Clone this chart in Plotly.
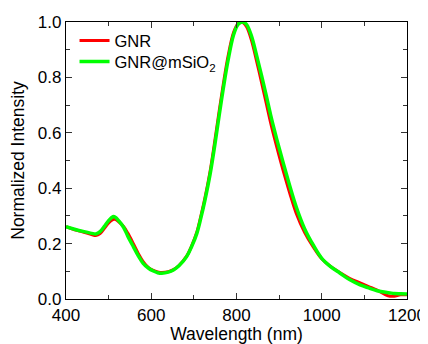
import plotly.graph_objects as go

# Wavelength (nm) sample points
wavelength = [400, 420, 440, 460, 470, 480, 490, 500, 510, 515, 525, 535, 545, 558, 570, 581, 593,
              605, 615, 625, 640, 652, 665, 683, 695, 707, 716, 726, 738, 750, 760, 769, 780, 793,
              803, 810, 816, 824, 835, 847, 859, 870, 880, 890, 900, 912, 925, 940, 960, 980, 1000,
              1020, 1043, 1065, 1090, 1110, 1130, 1150, 1160, 1170, 1185, 1200]

gnr = [0.261, 0.250, 0.242, 0.233, 0.229, 0.236, 0.255, 0.275, 0.287, 0.288, 0.277, 0.262, 0.238,
       0.200, 0.163, 0.135, 0.114, 0.103, 0.098, 0.096, 0.099, 0.106, 0.121, 0.155, 0.193, 0.242,
       0.297, 0.365, 0.460, 0.580, 0.685, 0.775, 0.875, 0.962, 0.993, 1.000, 0.997, 0.982, 0.935,
       0.860, 0.780, 0.705, 0.637, 0.575, 0.517, 0.450, 0.382, 0.310, 0.240, 0.188, 0.145, 0.118,
       0.095, 0.075, 0.058, 0.045, 0.032, 0.015, 0.010, 0.010, 0.015, 0.015]

gnr_msio2 = [0.261, 0.252, 0.244, 0.237, 0.235, 0.243, 0.262, 0.283, 0.297, 0.296, 0.280, 0.259,
             0.227, 0.189, 0.155, 0.129, 0.112, 0.101, 0.095, 0.093, 0.097, 0.105, 0.120, 0.153,
             0.190, 0.237, 0.290, 0.357, 0.450, 0.565, 0.670, 0.760, 0.860, 0.953, 0.990, 0.999,
             1.000, 0.990, 0.950, 0.880, 0.805, 0.733, 0.665, 0.603, 0.545, 0.478, 0.408, 0.333,
             0.253, 0.195, 0.147, 0.118, 0.093, 0.070, 0.051, 0.040, 0.030, 0.024, 0.022, 0.020,
             0.019, 0.018]

x_ticks = [400, 600, 800, 1000, 1200]
y_ticks = [0.0, 0.2, 0.4, 0.6, 0.8, 1.0]
y_tick_labels = ["0.0", "0.2", "0.4", "0.6", "0.8", "1.0"]

FONT = "Arial, Liberation Sans, sans-serif"

fig = go.Figure()
fig.add_trace(go.Scatter(x=wavelength, y=gnr, mode="lines", name="GNR", legend="legend",
                         line=dict(color="#ff0000", width=3, shape="spline")))
fig.add_trace(go.Scatter(x=wavelength, y=gnr_msio2, mode="lines", name="GNR@mSiO<sub>2</sub>",
                         legend="legend2",
                         line=dict(color="#00ff00", width=3.5, shape="spline")))

axis_common = dict(
    showline=True, linecolor="black", linewidth=1.3, mirror="allticks",
    ticks="inside", ticklen=6, tickwidth=1.2, tickcolor="#333",
    showgrid=False, zeroline=False, automargin=False,
    tickfont=dict(family=FONT, size=17, color="black"),
)

legend_common = dict(xanchor="left", yanchor="middle", bgcolor="rgba(0,0,0,0)",
                     font=dict(family=FONT, size=16.5, color="black"), itemwidth=30)

# The page body adds an 8px offset; size the figure so the plot area matches the reference.
fig.update_layout(
    width=420, height=336,
    margin=dict(l=58, r=21, t=14, b=45),
    paper_bgcolor="white", plot_bgcolor="white",
    font=dict(family=FONT, color="black"),
    showlegend=True,
    legend=dict(x=0.025, y=0.932, **legend_common),
    legend2=dict(x=0.025, y=0.856, **legend_common),
    xaxis=dict(range=[400, 1200], tickvals=x_ticks, ticktext=[str(v) for v in x_ticks],
               minor=dict(ticks="inside", ticklen=4, dtick=100, tick0=400, tickcolor="#333"),
               title=dict(text="Wavelength (nm)", font=dict(family=FONT, size=17.5), standoff=0),
               **axis_common),
    yaxis=dict(range=[0, 1.0], tickvals=y_ticks, ticktext=y_tick_labels,
               minor=dict(ticks="inside", ticklen=4, dtick=0.1, tick0=0, tickcolor="#333"),
               title=dict(text="Normalized Intensity", font=dict(family=FONT, size=17.5), standoff=8),
               **axis_common),
)

fig.write_html("out.html")
